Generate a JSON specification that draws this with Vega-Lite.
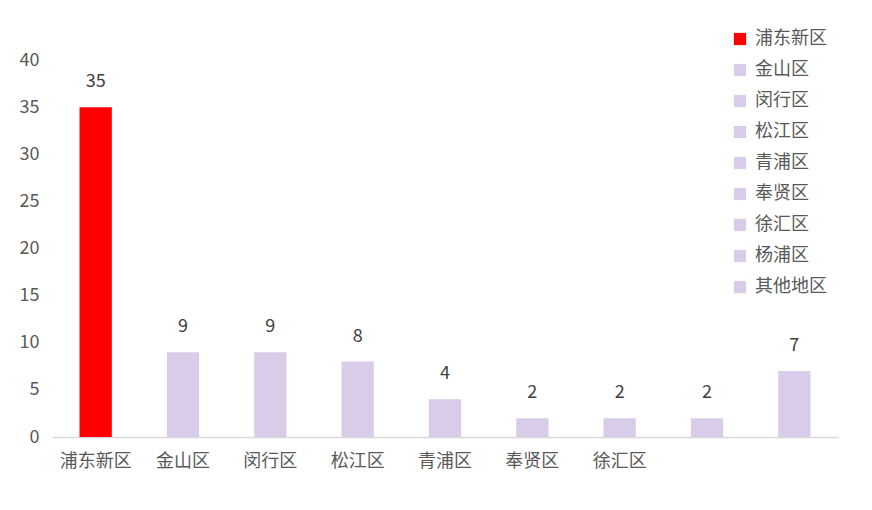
{
  "$schema": "https://vega.github.io/schema/vega-lite/v6.json",
  "width": 786,
  "height": 377,
  "autosize": {"type": "none"},
  "padding": {"left": 52, "top": 60, "right": 34, "bottom": 73},
  "background": "white",
  "config": {
    "view": {"stroke": null},
    "font": "Noto Sans CJK SC"
  },
  "data": {
    "values": [
      {"区": "浦东新区", "数量": 35},
      {"区": "金山区", "数量": 9},
      {"区": "闵行区", "数量": 9},
      {"区": "松江区", "数量": 8},
      {"区": "青浦区", "数量": 4},
      {"区": "奉贤区", "数量": 2},
      {"区": "徐汇区", "数量": 2},
      {"区": "杨浦区", "数量": 2},
      {"区": "其他地区", "数量": 7}
    ]
  },
  "encoding": {
    "x": {
      "field": "区",
      "type": "nominal",
      "sort": null,
      "scale": {"paddingInner": 0.63, "paddingOuter": 0.315},
      "axis": {
        "title": null,
        "labelAngle": 0,
        "labelFontSize": 18,
        "labelColor": "#595959",
        "labelPadding": 15,
        "ticks": false,
        "domainColor": "#D9D9D9",
        "domainWidth": 1.5,
        "labelExpr": "datum.value == '杨浦区' || datum.value == '其他地区' ? '' : datum.value"
      }
    },
    "y": {
      "field": "数量",
      "type": "quantitative",
      "scale": {"domain": [0, 40]},
      "axis": {
        "title": null,
        "values": [0, 5, 10, 15, 20, 25, 30, 35, 40],
        "grid": false,
        "domain": false,
        "ticks": false,
        "labelFontSize": 18,
        "labelColor": "#595959",
        "labelPadding": 13
      }
    }
  },
  "layer": [
    {
      "mark": {"type": "bar"},
      "encoding": {
        "color": {
          "field": "区",
          "type": "nominal",
          "sort": null,
          "scale": {
            "domain": ["浦东新区", "金山区", "闵行区", "松江区", "青浦区", "奉贤区", "徐汇区", "杨浦区", "其他地区"],
            "range": ["#FF0000", "#D9CCE8", "#D9CCE8", "#D9CCE8", "#D9CCE8", "#D9CCE8", "#D9CCE8", "#D9CCE8", "#D9CCE8"]
          },
          "legend": {
            "title": null,
            "orient": "none",
            "legendX": 679,
            "legendY": -30,
            "symbolType": "square",
            "symbolSize": 150,
            "labelFontSize": 18,
            "labelColor": "#595959",
            "rowPadding": 13,
            "labelOffset": 6
          }
        }
      }
    },
    {
      "mark": {"type": "text", "dy": -25, "fontSize": 18, "color": "#404040"},
      "encoding": {
        "text": {"field": "数量", "type": "quantitative"}
      }
    }
  ]
}
